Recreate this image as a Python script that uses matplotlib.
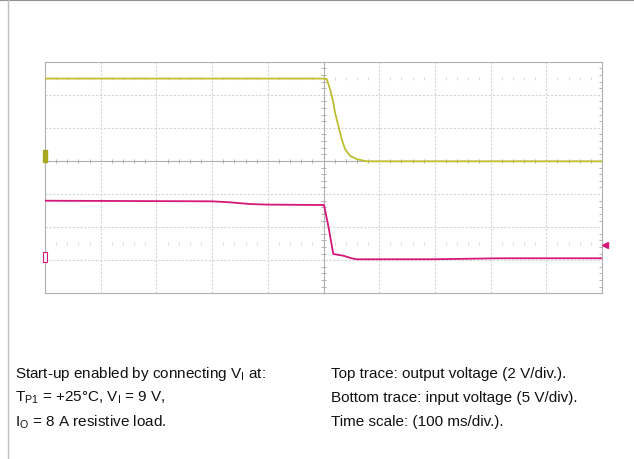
import numpy as np
import matplotlib.pyplot as plt
from matplotlib.lines import Line2D

plt.rcParams["font.family"] = ["Liberation Sans", "DejaVu Sans"]
plt.rcParams["mathtext.fontset"] = "custom"
plt.rcParams["mathtext.rm"] = "Liberation Sans"

# time axis: 100 ms/div, 10 div
# top trace: output voltage (V), 2 V/div
vout_t = [0, 497, 505.7, 511.7, 517.6, 520.6, 526.6, 532.7, 538.6, 547.6, 559.6, 577.6, 1000]
vout_v = [5.0, 5.0, 4.97, 4.36, 3.56, 2.96, 2.15, 1.34, 0.74, 0.33, 0.13, 0.0, 0.0]

# bottom trace: input voltage (V), 5 V/div
vin_t = [0, 300, 332, 368, 400, 500.9, 508.6, 517.6, 535.6, 550.6, 559.6, 700, 817, 1000]
vin_v = [8.89, 8.80, 8.65, 8.39, 8.30, 8.24, 5.11, 0.84, 0.58, 0.19, 0.04, 0.05, 0.19, 0.19]

out_gnd, out_scale = 3.99, 2.0   # div, V/div
in_gnd, in_scale = 1.02, 5.0
trigger_v = 2.24

yellow = "#bdbf2e"
pink = "#d5177a"

fig = plt.figure(figsize=(6.34, 4.6), dpi=100)
W, H = 634, 460
ax = fig.add_axes([45 / W, (H - 294.3) / H, 557 / W, 231.6 / H])
ax.set_xlim(0, 1000)
ax.set_ylim(0, 7)
ax.set_xticks([])
ax.set_yticks([])
for s in ax.spines.values():
  s.set_color("#b0b0b0")
  s.set_linewidth(0.8)

# graticule
for t in range(100, 1000, 100):
  if t == 500:
    continue
  ax.axvline(t, color="#d6d6d6", lw=0.8, ls=(0, (2, 1.5)), zorder=1)
for d in range(1, 7):
  if d == 4:
    continue
  ax.axhline(d, color="#d6d6d6", lw=0.8, ls=(0, (2, 1.5)), zorder=1)
ax.axvline(500, color="#b0b0b0", lw=0.8, zorder=1)
ax.axhline(4, color="#b0b0b0", lw=0.8, zorder=1)
minor_t = [t for t in np.arange(20, 1000, 20) if t % 100 != 0]
ax.vlines(minor_t, 4 - 0.07, 4 + 0.07, color="#b0b0b0", lw=0.7, zorder=1)
ax.vlines(minor_t, 6.5 - 0.04, 6.5 + 0.04, color="#dadada", lw=0.7, zorder=1)
ax.vlines(minor_t, 1.5 - 0.04, 1.5 + 0.04, color="#dadada", lw=0.7, zorder=1)
minor_d = [d for d in np.arange(0.2, 7, 0.2) if abs(d - round(d)) > 0.05]
ax.hlines(minor_d, 500 - 4, 500 + 4, color="#b0b0b0", lw=0.7, zorder=1)
ax.hlines(minor_d, 1000 - 6, 1000, color="#b0b0b0", lw=0.7, zorder=1)

# traces
ax.plot(vout_t, np.array(vout_v) / out_scale + out_gnd, color=yellow, lw=1.3, zorder=3)
ax.plot(vin_t, np.array(vin_v) / in_scale + in_gnd, color=pink, lw=1.3, zorder=3)

# ground / trigger markers
bar = [(-1, -3), (1, -3), (1, 3), (-1, 3), (-1, -3)]
ax.plot([0], [out_gnd + 0.15], marker=bar, ms=9, color="#a8a820", clip_on=False, zorder=4)
ax.plot([0], [in_gnd + 0.08], marker=bar, ms=7, color=pink, mfc="white", mew=0.8,
        clip_on=False, zorder=4)
ax.plot([1005], [trigger_v / in_scale + in_gnd], marker="<", ms=4, color=pink,
        clip_on=False, zorder=4)

# frame around the figure
fig.add_artist(Line2D([0, 1], [1 - 0.5 / H, 1 - 0.5 / H], color="#909090", lw=1.5))
fig.add_artist(Line2D([8 / W, 8 / W], [0, 1], color="#c0c0c0", lw=1.0))

fs = 11
left = [
  r"Start-up enabled by connecting V$_\mathregular{I}$ at:",
  r"T$_\mathregular{P1}$ = +25°C, V$_\mathregular{I}$ = 9 V,",
  r"I$_\mathregular{O}$ = 8 A resistive load.",
]
right = [
  "Top trace: output voltage (2 V/div.).",
  "Bottom trace: input voltage (5 V/div).",
  "Time scale: (100 ms/div.).",
]
for i, (a, b) in enumerate(zip(left, right)):
  y = 1 - (374 + 24 * i) / H
  fig.text(15 / W, y, a, fontsize=fs, va="center", ha="left", color="#111111")
  fig.text(331 / W, y, b, fontsize=fs, va="center", ha="left", color="#111111")

fig.savefig("out.png", dpi=100)
